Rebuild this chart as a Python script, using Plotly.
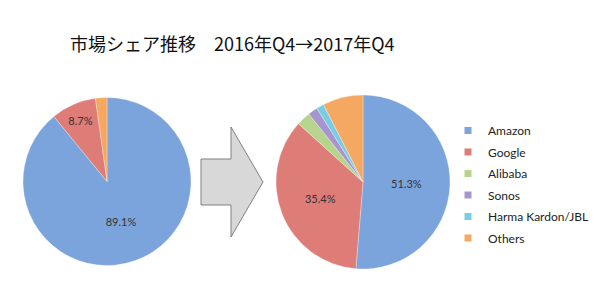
import plotly.graph_objects as go

title_text = "市場シェア推移　2016年Q4→2017年Q4"

labels_2016 = ["Amazon", "Google", "Others"]
values_2016 = [89.1, 8.7, 2.2]
text_2016 = ["89.1%", "8.7%", ""]

labels_2017 = ["Amazon", "Google", "Alibaba", "Sonos", "Harma Kardon/JBL", "Others"]
values_2017 = [51.3, 35.4, 2.6, 1.8, 1.4, 7.5]
text_2017 = ["51.3%", "35.4%", "", "", "", ""]

legend_labels = ["Amazon", "Google", "Alibaba", "Sonos", "Harma Kardon/JBL", "Others"]
colors = {
    "Amazon": "#7ca4dc",
    "Google": "#de7c78",
    "Alibaba": "#b6d48c",
    "Sonos": "#a895cd",
    "Harma Kardon/JBL": "#78cde6",
    "Others": "#f5a862",
}

W, H = 600, 298

def px_x(v):
    return v / W

def px_y(v):
    return 1 - v / H

fig = go.Figure()

label_font = dict(family="Lato, Liberation Sans, sans-serif", size=11, color="#333333")

fig.add_trace(go.Pie(
    labels=labels_2016, values=values_2016, text=text_2016,
    textinfo="text", textposition="inside", insidetextorientation="horizontal",
    sort=False, direction="clockwise", rotation=0,
    marker=dict(colors=[colors[l] for l in labels_2016], line=dict(color="rgba(255,255,255,0.6)", width=0.5)),
    domain=dict(x=[px_x(23), px_x(191)], y=[px_y(265.5), px_y(97.5)]),
    insidetextfont=label_font, showlegend=False, hoverinfo="label+percent",
))

fig.add_trace(go.Pie(
    labels=labels_2017, values=values_2017, text=text_2017,
    textinfo="text", textposition="inside", insidetextorientation="horizontal",
    sort=False, direction="clockwise", rotation=0,
    marker=dict(colors=[colors[l] for l in labels_2017], line=dict(color="rgba(255,255,255,0.6)", width=0.5)),
    domain=dict(x=[px_x(276), px_x(450)], y=[px_y(269), px_y(95)]),
    insidetextfont=label_font, showlegend=False, hoverinfo="label+percent",
))

for lab in legend_labels:
    fig.add_trace(go.Scatter(
        x=[None], y=[None], mode="markers", name=lab, legendgroup=lab,
        marker=dict(symbol="square", size=7, color=colors[lab]),
        showlegend=True,
    ))

arrow_pts = [(201, 159), (231, 159), (231, 127), (263, 182), (231, 237), (231, 205), (201, 205)]
path = "M " + " L ".join(f"{px_x(x):.5f},{px_y(y):.5f}" for x, y in arrow_pts) + " Z"
fig.add_shape(type="path", path=path, xref="paper", yref="paper",
              fillcolor="#d8d8d8", line=dict(color="#808080", width=1))

fig.update_layout(
    width=W, height=H,
    margin=dict(l=0, r=0, t=0, b=0),
    paper_bgcolor="white", plot_bgcolor="white",
    xaxis=dict(visible=False), yaxis=dict(visible=False),
    title=dict(text=title_text, x=px_x(70), xanchor="left", y=px_y(45), yanchor="middle",
               font=dict(family="Noto Sans CJK JP, sans-serif", size=18, color="#111111")),
    legend=dict(x=px_x(448), xanchor="left", y=px_y(116), yanchor="top",
                font=dict(family="Lato, Liberation Sans, sans-serif", size=12, color="#222222"),
                tracegroupgap=2.5, bgcolor="rgba(0,0,0,0)"),
)

fig.write_html("out.html")
